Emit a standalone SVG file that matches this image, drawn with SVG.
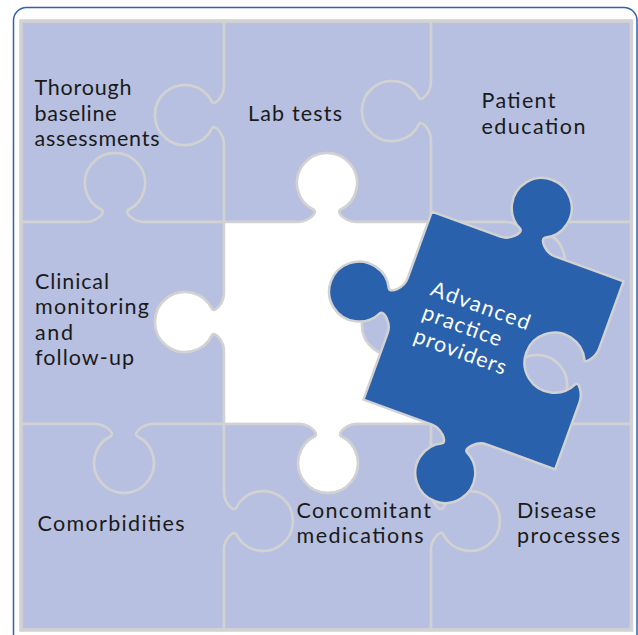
<svg xmlns="http://www.w3.org/2000/svg" width="638" height="635" viewBox="0 0 638 635">
<style>
.pc{fill:#b7c0e0;stroke:#d2d2d2;stroke-width:2.5;stroke-linejoin:round}
.hole{fill:#ffffff;stroke:#d2d2d2;stroke-width:2.5;stroke-linejoin:round}
.blue{fill:#2961ad;stroke:#d2d2d2;stroke-width:2.5;stroke-linejoin:round}
.lbl{font-family:Lato,"Open Sans","Liberation Sans",sans-serif;font-size:21.5px;fill:#1a1a1a}
.wl{font-family:Lato,"Open Sans","Liberation Sans",sans-serif;font-size:21.5px;fill:#ffffff}
</style>
<rect x="0" y="0" width="638" height="635" fill="#ffffff"/>
<rect x="13.5" y="7.5" width="623.5" height="640" rx="13" fill="none" stroke="#2e63ad" stroke-width="1.5"/>
<g id="thorough">
<path class="pc" d="M21,21 L224,21 L224,86 C224,96 215,106 212,102 A30,30 0 1 0 212,128 C215,124 224,134 224,144 L224,222 L144,222 C134,222 124,213 128,210 A30,30 0 1 0 102,210 C106,213 96,222 86,222 L21,222 Z"/>
<text class="lbl" x="34.5" y="95" textLength="97" lengthAdjust="spacing">Thorough</text>
<text class="lbl" x="34.5" y="120.5" textLength="82" lengthAdjust="spacing">baseline</text>
<text class="lbl" x="34.5" y="146" textLength="125" lengthAdjust="spacing">assessments</text>
</g>
<g id="lab-tests">
<path class="pc" d="M224,21 L431,21 L431,82 C431,92 422,102 419,98 A30,30 0 1 0 419,124 C422,120 431,130 431,140 L431,222 L356,222 C346,222 336,213 340,210 A30,30 0 1 0 314,210 C318,213 308,222 298,222 L224,222 L224,144 C224,134 215,124 212,128 A30,30 0 1 1 212,102 C215,106 224,96 224,86 Z"/>
<text class="lbl" x="248" y="121" textLength="94" lengthAdjust="spacing">Lab tests</text>
</g>
<g id="patient-education">
<path class="pc" d="M431,21 L631,21 L631,222 L564,222 C554,222 544,231 548,234 A30,30 0 1 1 522,234 C526,231 516,222 506,222 L431,222 L431,140 C431,130 422,120 419,124 A30,30 0 1 1 419,98 C422,102 431,92 431,82 Z"/>
<text class="lbl" x="481.5" y="107.5" textLength="74" lengthAdjust="spacing">Patient</text>
<text class="lbl" x="481.5" y="133.5" textLength="104" lengthAdjust="spacing">education</text>
</g>
<g id="clinical-monitoring">
<path class="pc" d="M21,222 L86,222 C96,222 106,213 102,210 A30,30 0 1 1 128,210 C124,213 134,222 144,222 L224,222 L224,293 C224,303 215,313 212,309 A30,30 0 1 0 212,335 C215,331 224,341 224,351 L224,424 L153,424 C143,424 133,433 137,436 A30,30 0 1 1 111,436 C115,433 105,424 95,424 L21,424 Z"/>
<text class="lbl" x="35" y="288.5" textLength="74" lengthAdjust="spacing">Clinical</text>
<text class="lbl" x="35" y="313.5" textLength="114" lengthAdjust="spacing">monitoring</text>
<text class="lbl" x="35" y="339.5" textLength="38" lengthAdjust="spacing">and</text>
<text class="lbl" x="35" y="365" textLength="99" lengthAdjust="spacing">follow-up</text>
</g>
<g id="empty-slot">
<path class="hole" d="M224,222 L298,222 C308,222 318,213 314,210 A30,30 0 1 1 340,210 C336,213 346,222 356,222 L431,222 L431,296 C431,306 422,316 419,312 A30,30 0 1 0 419,338 C422,334 431,344 431,354 L431,424 L357,424 C347,424 337,433 341,436 A30,30 0 1 1 315,436 C319,433 309,424 299,424 L224,424 L224,351 C224,341 215,331 212,335 A30,30 0 1 1 212,309 C215,313 224,303 224,293 Z"/>
</g>
<g id="right-middle">
<path class="pc" d="M431,222 L506,222 C516,222 526,231 522,234 A30,30 0 1 0 548,234 C544,231 554,222 564,222 L631,222 L631,424 L566,424 C556,424 546,415 550,412 A30,30 0 1 0 524,412 C528,415 518,424 508,424 L431,424 L431,354 C431,344 422,334 419,338 A30,30 0 1 1 419,312 C422,316 431,306 431,296 Z"/>
</g>
<g id="comorbidities">
<path class="pc" d="M21,424 L95,424 C105,424 115,433 111,436 A30,30 0 1 0 137,436 C133,433 143,424 153,424 L224,424 L224,492 C224,502 233,512 236,508 A30,30 0 1 1 236,534 C233,530 224,540 224,550 L224,630 L21,630 Z"/>
<text class="lbl" x="37.5" y="531" textLength="147" lengthAdjust="spacing">Comorbidities</text>
</g>
<g id="concomitant-medications">
<path class="pc" d="M224,424 L299,424 C309,424 319,433 315,436 A30,30 0 1 0 341,436 C337,433 347,424 357,424 L431,424 L431,492 C431,502 440,512 443,508 A30,30 0 1 1 443,534 C440,530 431,540 431,550 L431,630 L224,630 L224,550 C224,540 233,530 236,534 A30,30 0 1 0 236,508 C233,512 224,502 224,492 Z"/>
<text class="lbl" x="296.5" y="517.5" textLength="134.5" lengthAdjust="spacing">Concomitant</text>
<text class="lbl" x="296.5" y="543" textLength="127" lengthAdjust="spacing">medications</text>
</g>
<g id="disease-processes">
<path class="pc" d="M431,424 L508,424 C518,424 528,415 524,412 A30,30 0 1 1 550,412 C546,415 556,424 566,424 L631,424 L631,630 L431,630 L431,550 C431,540 440,530 443,534 A30,30 0 1 0 443,508 C440,512 431,502 431,492 Z"/>
<text class="lbl" x="517" y="517.5" textLength="79" lengthAdjust="spacing">Disease</text>
<text class="lbl" x="517" y="543" textLength="103" lengthAdjust="spacing">processes</text>
</g>
<rect x="21" y="21" width="610.5" height="609" fill="none" stroke="#d2d2d2" stroke-width="3.5"/>
<g id="advanced-practice-providers" transform="translate(493.5 340.5) rotate(20)">
<path class="blue" d="M-102,-100 L-29,-100 C-19,-100 -9,-111 -13,-114 A30,30 0 1 1 13,-114 C9,-111 19,-100 29,-100 L102,-100 L102,-29 C102,-19 94,-9 92,-13 A30,30 0 1 0 92,13 C94,9 102,19 102,29 L102,100 L29,100 C19,100 9,111 13,114 A30,30 0 1 1 -13,114 C-9,111 -19,100 -29,100 L-102,100 L-102,29 C-102,19 -113,9 -116,13 A30,30 0 1 1 -116,-13 C-113,-9 -102,-19 -102,-29 Z"/>
<text class="wl" x="-76" y="-21" textLength="104" lengthAdjust="spacing">Advanced</text>
<text class="wl" x="-76" y="4" textLength="83" lengthAdjust="spacing">practice</text>
<text class="wl" x="-76" y="29" textLength="97" lengthAdjust="spacing">providers</text>
</g>
</svg>
